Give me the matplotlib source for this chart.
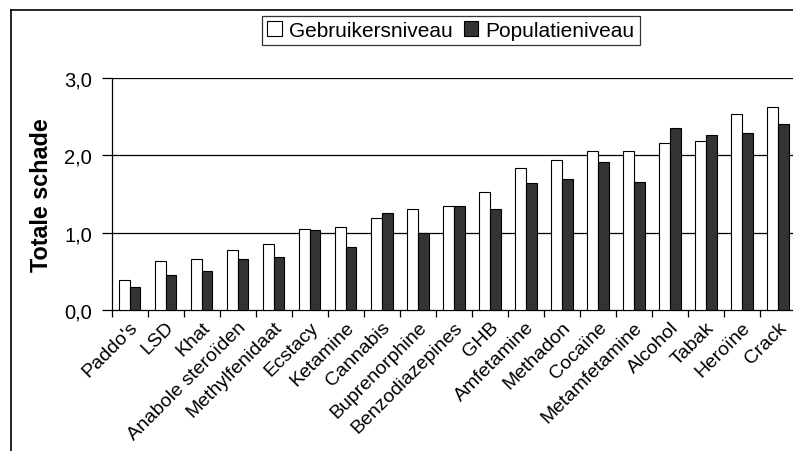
import matplotlib
matplotlib.use("Agg")
import matplotlib.pyplot as plt
from matplotlib.lines import Line2D
from matplotlib.patches import Patch
import numpy as np

plt.rcParams['font.family'] = ['Liberation Sans', 'DejaVu Sans']

categories = ["Paddo's", "LSD", "Khat", "Anabole steroïden", "Methylfenidaat", "Ecstacy",
              "Ketamine", "Cannabis", "Buprenorphine", "Benzodiazepines", "GHB", "Amfetamine",
              "Methadon", "Cocaïne", "Metamfetamine", "Alcohol", "Tabak", "Heroïne", "Crack"]
gebruikers = [0.39, 0.64, 0.66, 0.78, 0.85, 1.05, 1.07, 1.19, 1.31, 1.34, 1.53, 1.84,
              1.94, 2.06, 2.06, 2.16, 2.19, 2.53, 2.63]
populatie = [0.30, 0.45, 0.51, 0.66, 0.69, 1.03, 0.82, 1.26, 1.00, 1.35, 1.31, 1.64,
             1.69, 1.92, 1.66, 2.35, 2.26, 2.29, 2.41]
yticks = [0.0, 1.0, 2.0, 3.0]
ytick_labels = ["0,0", "1,0", "2,0", "3,0"]
series_names = ["Gebruikersniveau", "Populatieniveau"]

W, H = 793, 452
fig = plt.figure(figsize=(W / 100, H / 100), dpi=100)
ax = fig.add_axes([111.5 / W, 1 - 311 / H, 684.5 / W, (311 - 79) / H])

x = np.arange(len(categories)) + 0.5
bw = 0.30
ax.bar(x - bw / 2, gebruikers, bw, color='white', edgecolor='black', linewidth=0.8, zorder=3)
ax.bar(x + bw / 2, populatie, bw, color='#333333', edgecolor='black', linewidth=0.8, zorder=3)

ax.set_xlim(0, len(categories))
ax.set_ylim(0, 3.0)
for y in yticks[1:]:
    ax.axhline(y, color='black', linewidth=0.9, zorder=1)

ax.set_yticks(yticks)
ax.set_yticklabels(ytick_labels, fontsize=14.5)
ax.tick_params(axis='y', direction='out', length=7, width=0.9, pad=7)

ax.set_xticks(np.arange(len(categories) + 1))
ax.set_xticklabels([])
ax.tick_params(axis='x', which='major', direction='out', length=5, width=0.9)
ax.set_xticks(x, minor=True)
ax.set_xticklabels(categories, minor=True, rotation=45, ha='right', rotation_mode='anchor',
                   fontsize=14)
ax.tick_params(axis='x', which='minor', length=0, pad=6)

for s in ['top', 'right']:
    ax.spines[s].set_visible(False)
ax.spines['left'].set_linewidth(0.9)
ax.spines['bottom'].set_linewidth(0.9)

ax.set_ylabel("Totale schade", fontsize=16.8, fontweight='bold', labelpad=8)

handles = [Patch(facecolor='white', edgecolor='black', linewidth=0.8),
           Patch(facecolor='#333333', edgecolor='black', linewidth=0.8)]
leg = fig.legend(handles, series_names, loc='center', bbox_to_anchor=(451 / W, 1 - 31.5 / H),
                 ncol=2, fontsize=15, frameon=True, fancybox=False, edgecolor='black',
                 handlelength=0.7, handleheight=0.7, handletextpad=0.35, columnspacing=0.5,
                 borderpad=0.25, borderaxespad=0)
leg.get_frame().set_linewidth(0.9)

fig.add_artist(Line2D([11 / W, 1], [1 - 11 / H, 1 - 11 / H], color='black', linewidth=1.2,
                      transform=fig.transFigure))
fig.add_artist(Line2D([11 / W, 11 / W], [1 - 11 / H, 0], color='black', linewidth=1.2,
                      transform=fig.transFigure))

fig.savefig("out.png", dpi=100)
